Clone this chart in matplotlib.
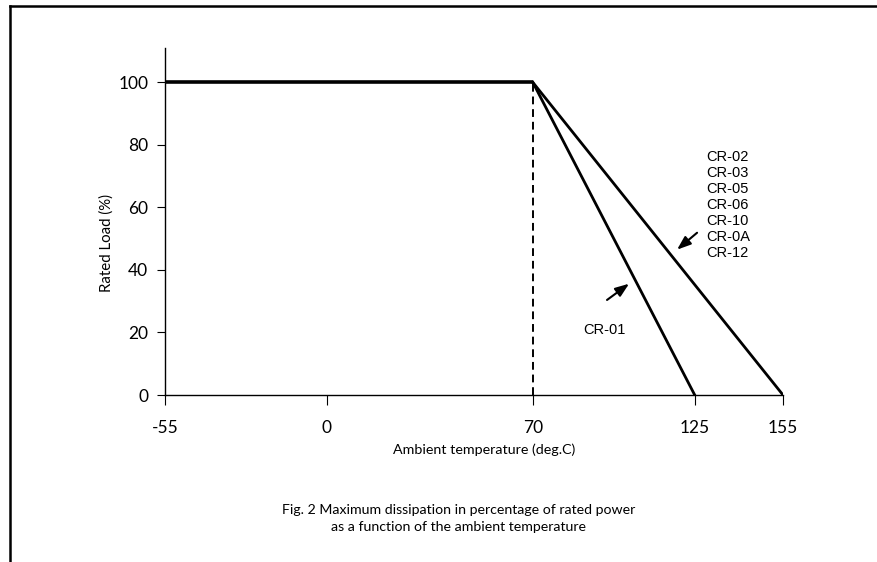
import matplotlib.pyplot as plt
from matplotlib.lines import Line2D

plt.rcParams['axes.unicode_minus'] = False

# derating curves (ambient temp in deg.C, rated load in %)
temp_flat = [-55, 70]
load_flat = [100, 100]
temp_cr01 = [70, 125]
load_cr01 = [100, 0]
temp_cr02 = [70, 155]
load_cr02 = [100, 0]
knee_temp = 70

x_ticks = [-55, 0, 70, 125, 155]
y_ticks = [0, 20, 40, 60, 80, 100]
group_labels = ['CR-02', 'CR-03', 'CR-05', 'CR-06', 'CR-10', 'CR-0A', 'CR-12']

fig = plt.figure(figsize=(8.78, 5.62), dpi=100)
ax = fig.add_axes([165 / 878, (562 - 395) / 562, 618 / 878, 347 / 562])

# page frame (top and left edge only)
fig.add_artist(Line2D([10 / 878, 1], [1 - 6 / 562, 1 - 6 / 562], color='black', lw=1.8))
fig.add_artist(Line2D([10 / 878, 10 / 878], [0, 1 - 6 / 562], color='black', lw=1.8))

ax.plot(temp_flat, load_flat, color='black', lw=2.6, solid_capstyle='butt')
ax.plot(temp_cr01, load_cr01, color='black', lw=2.0)
ax.plot(temp_cr02, load_cr02, color='black', lw=2.0)
ax.plot([knee_temp, knee_temp], [0, 100], color='black', lw=1.4, linestyle=(0, (4, 2.5)))

ax.set_xlim(-55, 155)
ax.set_ylim(0, 111)
ax.spines['top'].set_visible(False)
ax.spines['right'].set_visible(False)
ax.spines['left'].set_linewidth(1.0)
ax.spines['bottom'].set_linewidth(1.0)

ax.set_xticks(x_ticks)
ax.set_yticks(y_ticks)
ax.tick_params(axis='x', direction='out', length=7, width=0.8, pad=11, labelsize=12.5)
ax.tick_params(axis='y', direction='out', length=6, width=0.8, pad=6, labelsize=12.5)
for lab in ax.get_xticklabels() + ax.get_yticklabels():
    lab.set_fontfamily('Lato')

# axis labels sit off-centre in the original
ax.set_xlabel('Ambient temperature (deg.C)', fontsize=10.3, family='Lato', va='center')
ax.xaxis.set_label_coords(0.516, -0.159)
ax.set_ylabel('Rated Load (%)', fontsize=10.8, family='Lato', va='center')
ax.yaxis.set_label_coords(-0.094, 0.437)

# group annotation
ax.text(128.8, 78.5, '\n'.join(group_labels), fontsize=10.5, family='Liberation Sans',
        va='top', ha='left', linespacing=1.19)
arrow_style = dict(arrowstyle='-|>,head_length=0.75,head_width=0.28', color='black', lw=1.5,
                   mutation_scale=11, shrinkA=0, shrinkB=0)
ax.annotate('', xy=(119, 46.5), xytext=(125.8, 51.9), arrowprops=arrow_style)
ax.annotate('', xy=(102.7, 35.6), xytext=(95.2, 30.4), arrowprops=arrow_style)
ax.text(87.0, 20.8, 'CR-01', fontsize=10.5, family='Liberation Sans', va='center', ha='left')

fig.text(459 / 878, 1 - 510 / 562, 'Fig. 2 Maximum dissipation in percentage of rated power',
         fontsize=10.2, family='Lato', ha='center', va='center')
fig.text(459 / 878, 1 - 527 / 562, 'as a function of the ambient temperature',
         fontsize=10.2, family='Lato', ha='center', va='center')

fig.savefig('out.png', dpi=100)
